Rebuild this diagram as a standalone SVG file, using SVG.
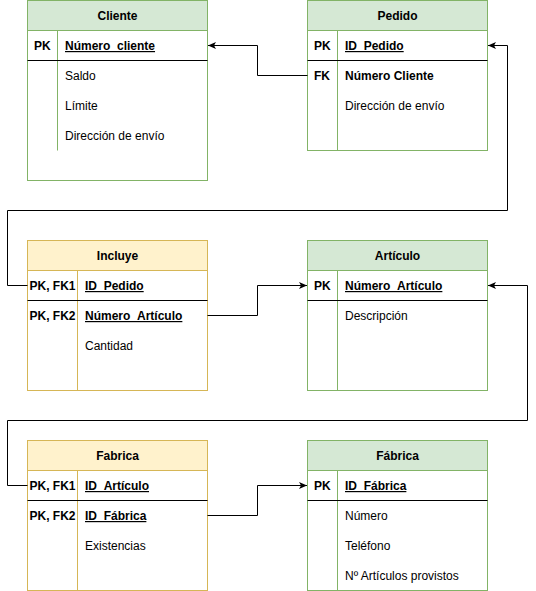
<svg xmlns="http://www.w3.org/2000/svg" width="536" height="591" viewBox="0 0 536 591">
<style>
text{font-family:"Liberation Sans",Arial,sans-serif;font-size:12px;fill:#000}
.h{font-weight:bold;text-anchor:middle}
.b{font-weight:bold}
.u{font-weight:bold;text-decoration:underline}
.g{fill:#d5e8d4;stroke:#82b366}
.y{fill:#fff2cc;stroke:#d6b656}
.w{fill:#ffffff}
.gl{stroke:#82b366;fill:none}
.yl{stroke:#d6b656;fill:none}
.k{stroke:#000;fill:none}
.c{stroke:#000;fill:none;stroke-width:1}
</style>
<defs>
<marker id="ar" viewBox="0 0 8 8" refX="8" refY="4" markerWidth="8" markerHeight="8" markerUnits="userSpaceOnUse" orient="auto">
<path d="M0,0.5 L8,4 L0,7.5 L2,4 Z" fill="#000"/>
</marker>
</defs>
<rect width="536" height="591" fill="#fff"/>

<g id="cliente">
<rect class="g" x="27.5" y="0.5" width="180" height="180"/>
<rect class="w" x="28" y="30.5" width="179" height="149.5"/>
<line class="gl" x1="27.5" y1="30.5" x2="207.5" y2="30.5"/>
<line class="gl" x1="57.5" y1="30.5" x2="57.5" y2="150.5"/>
<line class="k" x1="27.5" y1="60.5" x2="207.5" y2="60.5"/>
<text class="h" x="117.5" y="20">Cliente</text>
<text class="b" x="34" y="50">PK</text>
<text class="u" x="65" y="50">Número_cliente</text>
<text x="65" y="80">Saldo</text>
<text x="65" y="110">Límite</text>
<text x="65" y="140">Dirección de envío</text>
</g>

<g id="pedido">
<rect class="g" x="307.5" y="0.5" width="180" height="150"/>
<rect class="w" x="308" y="30.5" width="179" height="119.5"/>
<line class="gl" x1="307.5" y1="30.5" x2="487.5" y2="30.5"/>
<line class="gl" x1="337.5" y1="30.5" x2="337.5" y2="150.5"/>
<line class="k" x1="307.5" y1="60.5" x2="487.5" y2="60.5"/>
<text class="h" x="397.5" y="20">Pedido</text>
<text class="b" x="314" y="50">PK</text>
<text class="u" x="345" y="50">ID_Pedido</text>
<text class="b" x="314" y="80">FK</text>
<text class="b" x="345" y="80">Número Cliente</text>
<text x="345" y="110">Dirección de envío</text>
</g>

<g id="incluye">
<rect class="y" x="27.5" y="240.5" width="180" height="150"/>
<rect class="w" x="28" y="270.5" width="179" height="119.5"/>
<line class="yl" x1="27.5" y1="270.5" x2="207.5" y2="270.5"/>
<line class="yl" x1="77.5" y1="270.5" x2="77.5" y2="390.5"/>
<line class="k" x1="27.5" y1="300.5" x2="207.5" y2="300.5"/>
<text class="h" x="117.5" y="260">Incluye</text>
<text class="b" x="29.5" y="290">PK, FK1</text>
<text class="u" x="85" y="290">ID_Pedido</text>
<text class="b" x="29.5" y="320">PK, FK2</text>
<text class="u" x="85" y="320">Número_Artículo</text>
<text x="85" y="350">Cantidad</text>
</g>

<g id="articulo">
<rect class="g" x="307.5" y="240.5" width="180" height="150"/>
<rect class="w" x="308" y="270.5" width="179" height="119.5"/>
<line class="gl" x1="307.5" y1="270.5" x2="487.5" y2="270.5"/>
<line class="gl" x1="337.5" y1="270.5" x2="337.5" y2="390.5"/>
<line class="k" x1="307.5" y1="300.5" x2="487.5" y2="300.5"/>
<text class="h" x="397.5" y="260">Artículo</text>
<text class="b" x="314" y="290">PK</text>
<text class="u" x="345" y="290">Número_Artículo</text>
<text x="345" y="320">Descripción</text>
</g>

<g id="fabrica-rel">
<rect class="y" x="27.5" y="440.5" width="180" height="150"/>
<rect class="w" x="28" y="470.5" width="179" height="119.5"/>
<line class="yl" x1="27.5" y1="470.5" x2="207.5" y2="470.5"/>
<line class="yl" x1="77.5" y1="470.5" x2="77.5" y2="590.5"/>
<line class="k" x1="27.5" y1="500.5" x2="207.5" y2="500.5"/>
<text class="h" x="117.5" y="460">Fabrica</text>
<text class="b" x="29.5" y="490">PK, FK1</text>
<text class="u" x="85" y="490">ID_Artículo</text>
<text class="b" x="29.5" y="520">PK, FK2</text>
<text class="u" x="85" y="520">ID_Fábrica</text>
<text x="85" y="550">Existencias</text>
</g>

<g id="fabrica">
<rect class="g" x="307.5" y="440.5" width="180" height="150"/>
<rect class="w" x="308" y="470.5" width="179" height="119.5"/>
<line class="gl" x1="307.5" y1="470.5" x2="487.5" y2="470.5"/>
<line class="gl" x1="337.5" y1="470.5" x2="337.5" y2="590.5"/>
<line class="k" x1="307.5" y1="500.5" x2="487.5" y2="500.5"/>
<text class="h" x="397.5" y="460">Fábrica</text>
<text class="b" x="314" y="490">PK</text>
<text class="u" x="345" y="490">ID_Fábrica</text>
<text x="345" y="520">Número</text>
<text x="345" y="550">Teléfono</text>
<text x="345" y="580">Nº Artículos provistos</text>
</g>

<g id="connectors">
<path class="c" d="M307.5,75.5 H257.5 V45.5 H208" marker-end="url(#ar)"/>
<path class="c" d="M27.5,285.5 H7.5 V210.5 H507.5 V45.5 H488" marker-end="url(#ar)"/>
<path class="c" d="M207.5,315.5 H257.5 V285.5 H307" marker-end="url(#ar)"/>
<path class="c" d="M27.5,485.5 H7.5 V420.5 H527.5 V285.5 H488" marker-end="url(#ar)"/>
<path class="c" d="M207.5,515.5 H257.5 V485.5 H307" marker-end="url(#ar)"/>
</g>
</svg>
